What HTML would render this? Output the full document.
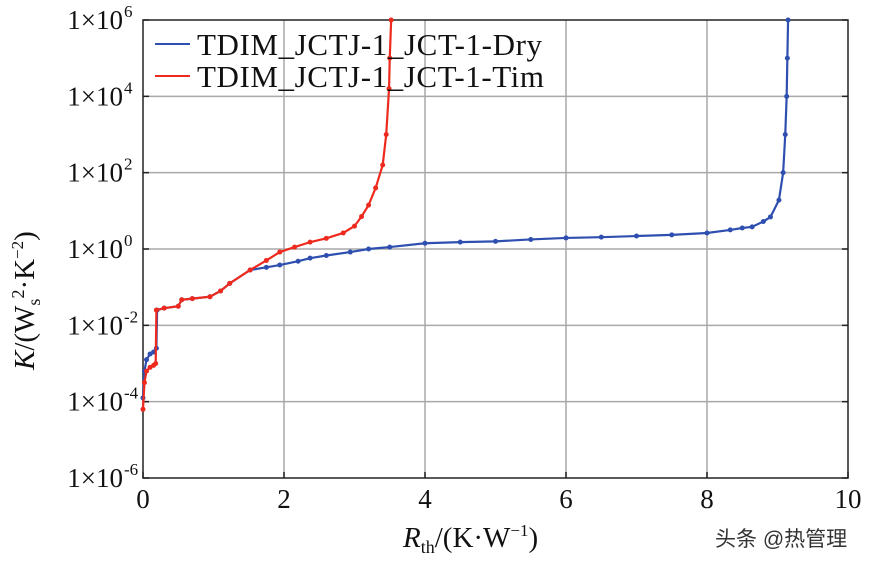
<!DOCTYPE html>
<html><head><meta charset="utf-8"><style>
body{margin:0;background:#fff;}
svg{display:block;font-family:"Liberation Serif",serif;}
</style></head><body>
<svg id="chart" width="869" height="564"></svg>
<script>
const xTicks=[0,2,4,6,8,10];
const yTickExps=[6,4,2,0,-2,-4,-6];
const dryX=[0,0.02,0.05,0.1,0.15,0.19,0.2,0.3,0.5,0.55,0.7,0.95,1.1,1.23,1.52,1.75,1.94,2.2,2.37,2.6,2.94,3.2,3.5,4,4.5,5,5.5,6,6.5,7,7.5,8,8.33,8.5,8.64,8.8,8.9,9.02,9.08,9.11,9.13,9.14,9.15];
const dryY=[-3.9,-3.2,-2.9,-2.75,-2.7,-2.6,-1.6,-1.55,-1.5,-1.33,-1.3,-1.25,-1.1,-0.9,-0.55,-0.48,-0.42,-0.32,-0.24,-0.17,-0.08,0,0.05,0.15,0.18,0.2,0.25,0.29,0.31,0.34,0.37,0.42,0.5,0.55,0.58,0.72,0.84,1.28,2,3,4,5,6];
const timX=[0,0.02,0.05,0.1,0.15,0.18,0.19,0.3,0.5,0.55,0.7,0.95,1.1,1.23,1.52,1.75,1.94,2.15,2.37,2.6,2.84,3.0,3.1,3.2,3.3,3.4,3.45,3.49,3.5,3.52];
const timY=[-4.2,-3.5,-3.2,-3.1,-3.05,-3.0,-1.6,-1.55,-1.5,-1.33,-1.3,-1.25,-1.1,-0.9,-0.55,-0.3,-0.08,0.05,0.18,0.28,0.42,0.6,0.85,1.15,1.6,2.2,3.0,4.2,5,6];
const ns="http://www.w3.org/2000/svg";
const svg=document.getElementById('chart');
const L=143,R=848,T=20,B=478;
const xs=v=>L+(v-0)/10*(R-L);
const ys=e=>T+(6-e)/12*(B-T);
function el(t,a,p){const e=document.createElementNS(ns,t);for(const k in a)e.setAttribute(k,a[k]);(p||svg).appendChild(e);return e;}
const grid=el('g',{});


xTicks.forEach(v=>{if(v>0&&v<10){const l=el('line',{x1:xs(v),x2:xs(v),y1:T,y2:B,stroke:'#a8a8a8','stroke-width':1.5},grid);}});
yTickExps.forEach(e=>{if(e<6&&e>-6){const l=el('line',{x1:L,x2:R,y1:ys(e),y2:ys(e),stroke:'#a8a8a8','stroke-width':1.5},grid);}});
const fr=el('rect',{x:L,y:T,width:R-L,height:B-T,fill:'none',stroke:'#222','stroke-width':1.5});


xTicks.forEach(v=>{
 el('line',{x1:xs(v),x2:xs(v),y1:B,y2:B-6,stroke:'#222','stroke-width':1.5});
 const t=el('text',{x:xs(v),y:508,'font-size':27,'text-anchor':'middle',fill:'#111'});
 t.textContent=v;
 
 
});
yTickExps.forEach(e=>{
 el('line',{x1:L,x2:L+6,y1:ys(e),y2:ys(e),stroke:'#222','stroke-width':1.5});
 el('line',{x1:R,x2:R-6,y1:ys(e),y2:ys(e),stroke:'#222','stroke-width':1.5});
 const t=el('text',{x:123,y:ys(e)+9,'font-size':27,'text-anchor':'end',fill:'#111'});
 t.textContent='1×10';
 
 
 const s=el('text',{x:124,y:ys(e)-3,'font-size':17,'text-anchor':'start',fill:'#111'});
 s.textContent=e;
 
 
});
function series(X,Y,col,name){
 const g=el('g',{});
 
 
 const pts=X.map((x,i)=>xs(x)+','+ys(Y[i])).join(' ');
 el('polyline',{points:pts,fill:'none',stroke:col,'stroke-width':2.2},g);
 X.forEach((x,i)=>{const c=el('circle',{cx:xs(x),cy:ys(Y[i]),r:2.5,fill:col},g);
  
  });
}
series(dryX,dryY,'#2f4fb0','series-dry');
series(timX,timY,'#ee2a1e','series-tim');
</script>
<svg width="869" height="564" style="position:absolute;left:0;top:0;font-family:'Liberation Serif',serif;">
 <g>
  <line x1="155" x2="190" y1="44" y2="44" stroke="#2f4fb0" stroke-width="2"/>
  <text x="197" y="55" font-size="31" fill="#111" textLength="345">TDIM_JCTJ-1_JCT-1-Dry</text>
  <line x1="155" x2="190" y1="76" y2="76" stroke="#ee2a1e" stroke-width="2"/>
  <text x="197" y="87" font-size="31" fill="#111" textLength="347">TDIM_JCTJ-1_JCT-1-Tim</text>
 </g>
 <text x="403" y="547" font-size="29" fill="#111"><tspan font-style="italic">R</tspan><tspan font-size="18" dy="6">th</tspan><tspan dy="-6">/(K·W</tspan><tspan font-size="17" dy="-11">−1</tspan><tspan dy="11">)</tspan></text>
 <text transform="translate(34,370) rotate(-90)" font-size="29" fill="#111"><tspan font-style="italic">K</tspan>/(W<tspan font-size="18" dy="6">s</tspan><tspan font-size="18" dy="-16">2</tspan><tspan dy="10">·K</tspan><tspan font-size="17" dy="-11">−2</tspan><tspan dy="11">)</tspan></text>
 <text x="715" y="546" font-size="21" fill="#333" font-family="'Liberation Sans','Noto Sans CJK SC',sans-serif">头条 @热管理</text>
</svg>
</body></html>
